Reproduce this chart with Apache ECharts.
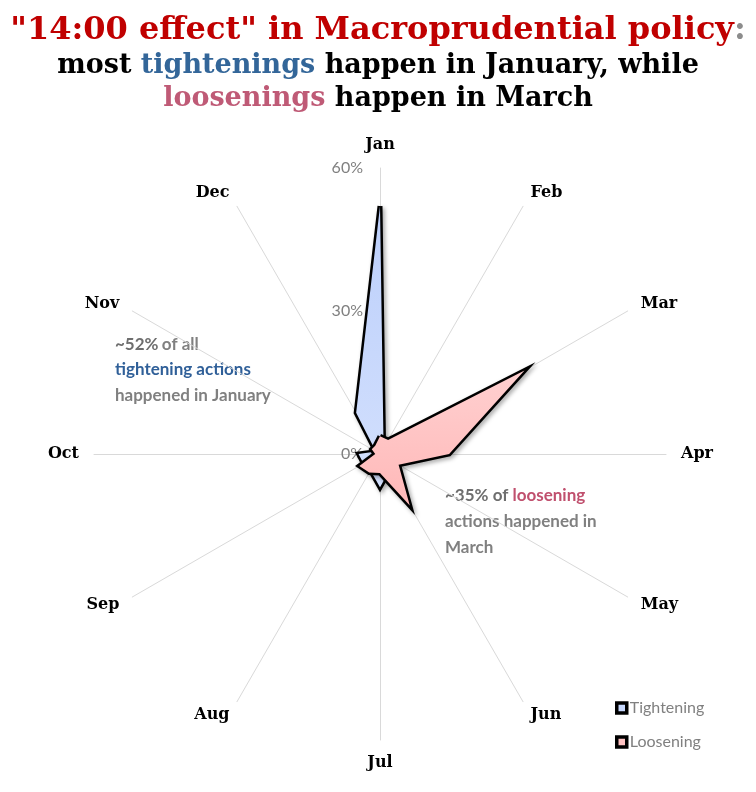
<!DOCTYPE html>
<html>
<head>
<meta charset="utf-8">
<script src="https://cdn.jsdelivr.net/npm/echarts@6/dist/echarts.min.js"></script>
<style>
  html, body { margin: 0; padding: 0; background: #fff; }
  #main { width: 756px; height: 792px; }
</style>
</head>
<body>
<div id="main"></div>
<script>
// months round the radar, clockwise from the top
var months = ['Jan', 'Feb', 'Mar', 'Apr', 'May', 'Jun', 'Jul', 'Aug', 'Sep', 'Oct', 'Nov', 'Dec'];
// share of actions per month, %
var tightening = [52, 1.5, 3, 3, 2, 4, 7, 4, 4, 4.5, 1, 10];
var loosening = [3.7, 3.4, 35, 14.5, 4.5, 12.5, 4, 4.5, 5, 1, 2, 2];
var axisMin = 0, axisMax = 60, splitCount = 2;

// echarts radar runs counter-clockwise, so walk the months backwards after Jan
var order = months.map(function (m, i) { return i === 0 ? 0 : months.length - i; });
function reorder(arr) { return order.map(function (k) { return arr[k]; }); }

var myChart = echarts.init(document.getElementById('main'));

var indicators = order.map(function (k) {
    var ind = { name: months[k], min: axisMin, max: axisMax };
    if (k === 0) ind.axisLabel = { show: true };   // tick labels only on Jan spoke
    return ind;
});

var outline = {
    color: '#000', width: 5, join: 'miter', miterLimit: 20,
    shadowColor: 'rgba(0,0,0,0.35)', shadowBlur: 4, shadowOffsetX: 2, shadowOffsetY: 2
};

var option = {
    backgroundColor: '#fff',
    title: {
        left: 'center',
        top: 7,
        text: '{r|"14:00 effect" in Macroprudential policy}{g|:}\n' +
              '{k|most }{b|tightenings}{k| happen in January, while}\n' +
              '{p|loosenings}{k| happen in March}',
        textStyle: {
            rich: {
                r: { color: '#c00000', fontFamily: 'DejaVu Serif', fontWeight: 'bold', fontSize: 32, lineHeight: 37 },
                g: { color: '#8c8c8c', fontFamily: 'DejaVu Serif', fontWeight: 'bold', fontSize: 32, lineHeight: 37 },
                k: { color: '#000', fontFamily: 'DejaVu Serif', fontWeight: 'bold', fontSize: 27, lineHeight: 33 },
                b: { color: '#336699', fontFamily: 'DejaVu Serif', fontWeight: 'bold', fontSize: 27, lineHeight: 33 },
                p: { color: '#bf5a76', fontFamily: 'DejaVu Serif', fontWeight: 'bold', fontSize: 27, lineHeight: 33 }
            }
        }
    },
    legend: {
        orient: 'vertical',
        left: 610,
        top: 695,
        itemGap: 18,
        icon: 'rect',
        itemWidth: 10,
        itemHeight: 10,
        itemStyle: { borderColor: '#000', borderWidth: 3.5 },
        textStyle: { color: '#808080', fontFamily: 'Lato', fontSize: 16, padding: [0, 0, 0, -2] },
        data: ['Tightening', 'Loosening']
    },
    radar: {
        center: [380, 454],
        radius: 286,
        startAngle: 90,
        splitNumber: splitCount,
        shape: 'polygon',
        indicator: indicators,
        nameGap: 15,
        axisName: { color: '#000', fontFamily: 'DejaVu Serif', fontWeight: 'bold', fontSize: 16 },
        axisLine: { lineStyle: { color: '#d9d9d9', width: 1 } },
        axisTick: { show: false },
        axisLabel: { show: false, color: '#808080', fontFamily: 'Lato', fontSize: 16, margin: 17, formatter: '{value}%' },
        splitLine: { show: false },
        splitArea: { show: false }
    },
    graphic: [
        {
            type: 'text', left: 115, top: 336,
            style: {
                text: '{d|~52%} {g|of all}\n{b|tightening actions}\n{g|happened in January}',
                rich: {
                    d: { fill: '#6e6e6e', font: 'bold 17px Lato', lineHeight: 25.5 },
                    g: { fill: '#808080', font: 'bold 17px Lato', lineHeight: 25.5 },
                    b: { fill: '#2f5f98', font: 'bold 17px Lato', lineHeight: 25.5 }
                }
            }
        },
        {
            type: 'text', left: 445, top: 487,
            style: {
                text: '{d|~35% of }{p|loosening}\n{g|actions happened in}\n{g|March}',
                rich: {
                    d: { fill: '#6e6e6e', font: 'bold 17px Lato', lineHeight: 26 },
                    g: { fill: '#808080', font: 'bold 17px Lato', lineHeight: 26 },
                    p: { fill: '#c0506e', font: 'bold 17px Lato', lineHeight: 26 }
                }
            }
        }
    ],
    series: [{
        type: 'radar',
        symbol: 'none',
        data: [
            {
                name: 'Tightening',
                value: reorder(tightening),
                itemStyle: { color: '#c6d7fd' },
                lineStyle: outline,
                areaStyle: { opacity: 1, color: new echarts.graphic.LinearGradient(0, 0, 0, 1, [
                    { offset: 0, color: '#bccffb' }, { offset: 1, color: '#d3e0fd' }]) }
            },
            {
                name: 'Loosening',
                value: reorder(loosening),
                itemStyle: { color: '#ffc2c2' },
                lineStyle: outline,
                areaStyle: { opacity: 1, color: new echarts.graphic.LinearGradient(0, 0, 0, 1, [
                    { offset: 0, color: '#ffd0d0' }, { offset: 1, color: '#ffb8b8' }]) }
            }
        ]
    }]
};

myChart.setOption(option);
</script>
</body>
</html>
